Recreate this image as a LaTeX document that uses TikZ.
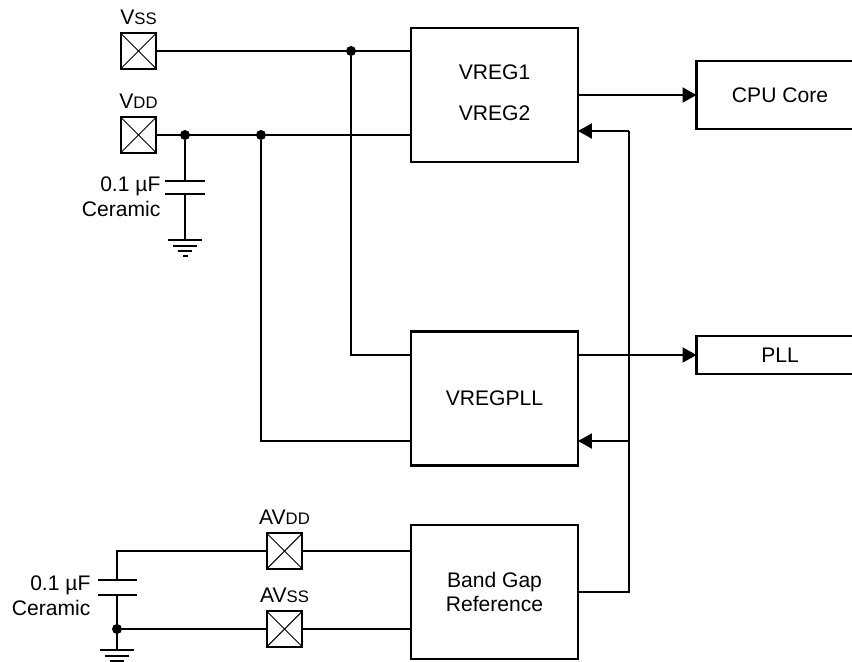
\documentclass[tikz,border=0pt]{standalone}
\usepackage{fontspec}
\setmainfont{Liberation Sans}
\usepackage{xcolor}
\usetikzlibrary{arrows.meta, positioning, calc}
\newcommand{\lowfont}{\fontsize{9.5pt}{11pt}\selectfont}

\begin{document}
\begin{tikzpicture}[
    x=0.02cm, y=-0.02cm,
    font=\fontsize{12pt}{14pt}\selectfont,
    >={Triangle[length=2.8mm,width=3mm]},
    line width=1.2pt,
    block/.style={
        rectangle, draw=black, line width=1.2pt, outer sep=0pt,
        minimum width=33.4mm, align=center
    },
    regbox/.style={block, minimum height=26.8mm},
    pad/.style={
        rectangle, draw=black, line width=1.2pt, outer sep=0pt,
        minimum size=7.1mm, inner sep=0pt,
        path picture={
            \draw[line width=0.6pt] (path picture bounding box.north west) -- (path picture bounding box.south east);
            \draw[line width=0.6pt] (path picture bounding box.north east) -- (path picture bounding box.south west);
        }
    },
    padlbl/.style={label distance=1.5mm, inner sep=0pt},
    dotjoin/.style={circle, fill=black, inner sep=0pt, minimum size=2mm, outer sep=0pt},
    arr/.style={->, line width=1.2pt},
    caplbl/.style={align=right, anchor=east, inner sep=0pt},
    gnd/.pic={
        \draw (-17,0) -- (17,0);
        \draw (-12,6) -- (12,6);
        \draw (-7,11) -- (7,11);
        \draw (-2.5,16) -- (2.5,16);
    }
]
\useasboundingbox (0,0) rectangle (852,662);

% Blocks
\node[regbox] (vreg)    at (494.5,95)  {};
\node (vregone) at (494.5,72)  {VREG1};
\node (vregtwo) at (494.5,113) {VREG2};
\node[regbox] (vregpll) at (494.5,398.5) {VREGPLL};
\node[regbox] (bandgap) at (494.5,592) {Band Gap\\Reference};
\node[block, minimum height=13.6mm] (cpu) at (780,95)  {CPU Core};
\node[block, minimum height=7.6mm]  (pll) at (780,355) {PLL};

% Pads
\node[pad, label={[padlbl]above:V{\lowfont SS}}]  (padvss)  at (138.5,51)  {};
\node[pad, label={[padlbl]above:V{\lowfont DD}}]  (padvdd)  at (138.5,135) {};
\node[pad, label={[padlbl]above:AV{\lowfont DD}}] (padavdd) at (284.5,551) {};
\node[pad, label={[padlbl]above:AV{\lowfont SS}}] (padavss) at (284.5,629) {};

% Junctions
\node[dotjoin] (jvss)  at (351,51)  {};
\node[dotjoin] (jcap)  at (185,135) {};
\node[dotjoin] (jvdd)  at (261,135) {};
\node[dotjoin] (javss) at (117,629) {};

% Capacitor plates and ground points
\coordinate (captop)  at (185,181);
\coordinate (capbot)  at (185,194);
\coordinate (gndtop)  at (185,240);
\coordinate (acaptop) at (117,580);
\coordinate (acapbot) at (117,595);
\coordinate (gndbot)  at (117,650);
\coordinate (fbvreg)  at (629,131);
\coordinate (fbpll)   at (629,441);

% Supply wires
\draw (padvss) -- (padvss -| vreg.west);
\draw (padvdd) -- (padvdd -| vreg.west);
\draw (jvss) |- (vregpll.west |- 0,355);
\draw (jvdd) |- (vregpll.west |- 0,441);
\draw (padavdd) -- (padavdd -| bandgap.west);
\draw (padavss) -- (padavss -| bandgap.west);
\draw (padavdd) -| (acaptop);
\draw (acapbot) -- (gndbot);
\draw (padavss) -- (javss);
\draw (jcap) -- (captop);
\draw (capbot) -- (gndtop);

% Capacitors
\draw ($(captop)+(-20,0)$) -- ($(captop)+(20,0)$);
\draw ($(capbot)+(-20,0)$) -- ($(capbot)+(20,0)$);
\draw ($(acaptop)+(-19.5,0)$) -- ($(acaptop)+(19.5,0)$);
\draw ($(acapbot)+(-19.5,0)$) -- ($(acapbot)+(19.5,0)$);
\pic at (gndtop) {gnd};
\pic at (gndbot) {gnd};
\node[caplbl] (caplbl)  at (161.5,197) {0.1 µF\\Ceramic};
\node[caplbl] (acaplbl) at (91.5,596)  {0.1 µF\\Ceramic};

% Outputs and feedback
\draw[arr] (vreg) -- (cpu);
\draw[arr] (pll.west -| vregpll.east) -- (pll.west);
\draw (bandgap.east) -| (fbvreg);
\draw[arr] (fbvreg) -- (fbvreg -| vreg.east);
\draw[arr] (fbpll) -- (fbpll -| vregpll.east);

\end{tikzpicture}
\end{document}
